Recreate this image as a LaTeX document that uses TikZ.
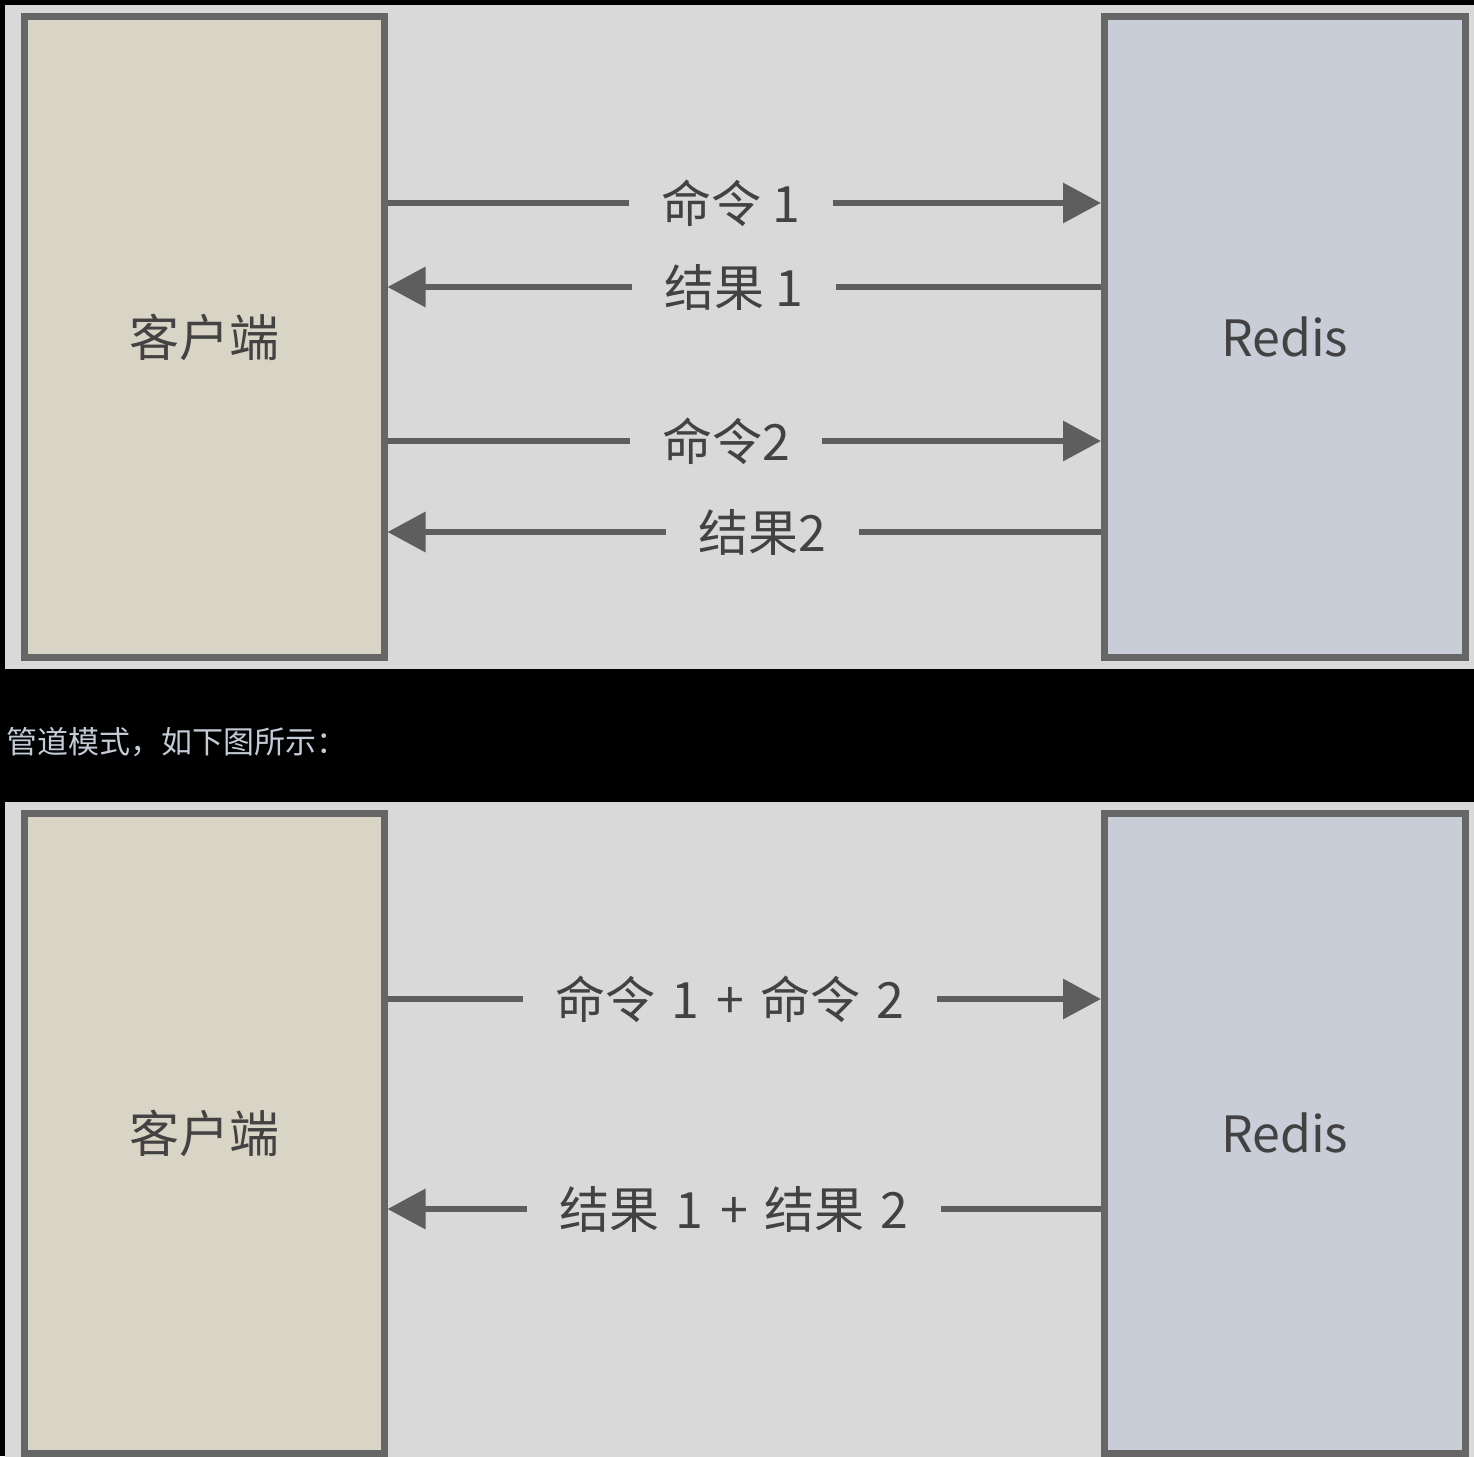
\documentclass[tikz,border=0pt]{standalone}
\usepackage{fontspec}
\setmainfont{Noto Sans CJK SC}
\usetikzlibrary{arrows.meta}
\definecolor{panelbg}{HTML}{D9D9D9}
\definecolor{clientfill}{HTML}{D8D5C6}
\definecolor{redisfill}{HTML}{C9CDD7}
\definecolor{boxline}{HTML}{666666}
\definecolor{arrowc}{HTML}{5E5E5E}
\definecolor{textc}{HTML}{424242}
\definecolor{captionc}{HTML}{C3CBD6}
\newcommand{\wsp}{\hspace{16.5pt}}
\tikzset{
  boxbase/.style={draw=boxline, line width=7pt, minimum width=360pt, inner sep=0pt,
    text=textc, font=\fontsize{50}{60}\selectfont},
  clientbox/.style={boxbase, fill=clientfill},
  redisbox/.style={boxbase, fill=redisfill},
  msglabel/.style={inner xsep=32pt, inner ysep=0pt, text=textc, font=\fontsize{50}{60}\selectfont},
  conn/.style={draw=arrowc, line width=6.5pt},
  arr/.style={-{Triangle[length=38pt,width=39pt]}},
}
\begin{document}
\begin{tikzpicture}[x=1pt,y=-1pt]
\fill[black] (0,0) rectangle (1474,1456);
\useasboundingbox (0,0) rectangle (1474,1456);
% panels
\fill[panelbg] (5,5) rectangle (1474,668.5);
\fill[panelbg] (5,802) rectangle (1474,1460);
% caption
\node[anchor=west, inner sep=0pt, text=captionc, font=\fontsize{31}{36}\selectfont] (cap) at (6,742) {管道模式，如下图所示：};
% top diagram
\node[clientbox, minimum width=359.5pt, minimum height=641pt] (cl1) at (204.25,337) {客户端};
\node[redisbox, minimum width=360.5pt, minimum height=641pt] (rd1) at (1284.75,337) {Redis};
\node[msglabel] (m1) at (731,203) {命令 1};
\node[msglabel] (m2) at (734,287) {结果 1};
\node[msglabel] (m3) at (726,441) {命令2};
\node[msglabel] (m4) at (762.5,532) {结果2};
\draw[conn] (cl1.east |- m1) -- (m1.west);
\draw[conn,arr] (m1.east) -- (rd1.west |- m1);
\draw[conn] (rd1.west |- m2) -- (m2.east);
\draw[conn,arr] (m2.west) -- (cl1.east |- m2);
\draw[conn] (cl1.east |- m3) -- (m3.west);
\draw[conn,arr] (m3.east) -- (rd1.west |- m3);
\draw[conn] (rd1.west |- m4) -- (m4.east);
\draw[conn,arr] (m4.west) -- (cl1.east |- m4);
% bottom diagram
\node[clientbox, minimum width=359.5pt, minimum height=640.5pt] (cl2) at (204.25,1133.25) {客户端};
\node[redisbox, minimum width=360.5pt, minimum height=640.5pt] (rd2) at (1284.75,1133.25) {Redis};
\node[msglabel] (p1) at (730,999) {命令\wsp{}1\wsp{}+\wsp{}命令\wsp{}2};
\node[msglabel] (p2) at (734,1209) {结果\wsp{}1\wsp{}+\wsp{}结果\wsp{}2};
\draw[conn] (cl2.east |- p1) -- (p1.west);
\draw[conn,arr] (p1.east) -- (rd2.west |- p1);
\draw[conn] (rd2.west |- p2) -- (p2.east);
\draw[conn,arr] (p2.west) -- (cl2.east |- p2);
\end{tikzpicture}
\end{document}
